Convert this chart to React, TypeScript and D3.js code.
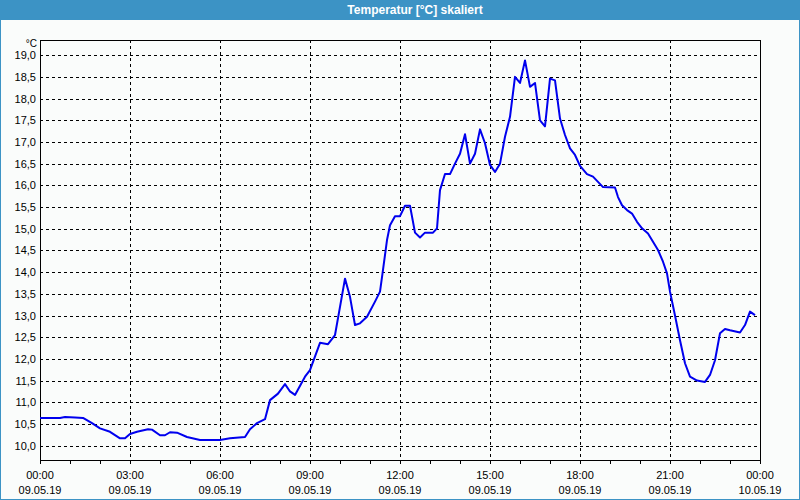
import * as d3 from "d3";
import React, { useEffect, useRef } from "react";

// Sample times (minutes after 09.05.19 00:00) and temperatures in °C
const minutes = [
  0, 40, 50, 70, 86, 104, 120, 140, 160, 170, 180, 194, 216, 224, 240, 250, 260, 274, 294, 320,
  360, 380, 410, 420, 434, 450, 460, 476, 490, 500, 510, 530, 540, 560, 576, 590, 600, 610, 620, 630,
  640, 654, 670, 680, 686, 694, 700, 710, 720, 730, 740, 750, 760, 770, 786, 794, 800, 810, 820, 830,
  840, 850, 860, 870, 880, 890, 900, 910, 920, 930, 940, 950, 960, 970, 980, 990, 1000, 1010, 1020, 1030,
  1040, 1050, 1060, 1070, 1080, 1094, 1106, 1126, 1150, 1156, 1164, 1174, 1184, 1194, 1204, 1216, 1226, 1236, 1246, 1254,
  1260, 1270, 1280, 1290, 1300, 1314, 1330, 1340, 1350, 1360, 1370, 1380, 1400, 1410, 1420, 1430,
];
const temps = [
  10.64, 10.64, 10.66, 10.65, 10.64, 10.52, 10.4, 10.32, 10.17, 10.17, 10.27, 10.32, 10.38, 10.37, 10.24, 10.24, 10.31, 10.3, 10.2, 10.13,
  10.13, 10.17, 10.2, 10.38, 10.52, 10.61, 11.05, 11.2, 11.42, 11.25, 11.17, 11.59, 11.74, 12.37, 12.34, 12.55, 13.2, 13.85, 13.43, 12.78,
  12.82, 12.97, 13.32, 13.55, 14.05, 14.74, 15.08, 15.29, 15.29, 15.53, 15.53, 14.91, 14.8, 14.91, 14.91, 15.01, 15.89, 16.26, 16.26, 16.5,
  16.73, 17.18, 16.5, 16.73, 17.29, 16.97, 16.47, 16.31, 16.5, 17.12, 17.58, 18.5, 18.36, 18.88, 18.27, 18.36, 17.5, 17.36, 18.46, 18.42,
  17.54, 17.16, 16.85, 16.7, 16.45, 16.26, 16.2, 15.96, 15.95, 15.73, 15.54, 15.43, 15.35, 15.16, 15.01, 14.89, 14.7, 14.51, 14.24, 13.97,
  13.55, 13.0, 12.43, 11.9, 11.59, 11.5, 11.47, 11.63, 11.97, 12.59, 12.69, 12.66, 12.61, 12.78, 13.09, 13.01,
];
const yTicks = [10, 10.5, 11, 11.5, 12, 12.5, 13, 13.5, 14, 14.5, 15, 15.5, 16, 16.5, 17, 17.5, 18, 18.5, 19];
const title = "Temperatur [°C] skaliert";
const unit = "°C";

const App: React.FC = () => {
  const ref = useRef<HTMLDivElement>(null);

  useEffect(() => {
    if (!ref.current) return;
    d3.select(ref.current).selectAll("*").remove();

    const width = 800,
      height = 500,
      margin = { top: 40, right: 40, bottom: 40, left: 40 };
    const font = "'Liberation Sans', 'DejaVu Sans', sans-serif";

    const start = new Date(2019, 4, 9, 0, 0);
    const end = new Date(2019, 4, 10, 0, 0);
    const data = minutes.map((m, i) => ({ t: new Date(start.getTime() + m * 60000), v: temps[i] }));

    const svg = d3
      .select(ref.current)
      .append("svg")
      .attr("width", width)
      .attr("height", height)
      .style("display", "block");

    // window background, frame and title bar
    svg.append("rect").attr("width", width).attr("height", height).attr("fill", "#fafcfb");
    svg.append("rect").attr("width", width).attr("height", 20).attr("fill", "#3c93c5");
    svg
      .append("rect")
      .attr("x", 0.5)
      .attr("y", 0.5)
      .attr("width", width - 1)
      .attr("height", height - 1)
      .attr("fill", "none")
      .attr("stroke", "#3c93c5");
    svg
      .append("text")
      .attr("x", 415)
      .attr("y", 14)
      .attr("text-anchor", "middle")
      .style("font-family", font)
      .style("font-size", "12px")
      .style("font-weight", "bold")
      .style("fill", "#fff")
      .text(title);

    const x = d3.scaleTime().domain([start, end]).range([margin.left, width - margin.right]);
    const y = d3.scaleLinear().domain([9.67, 19.35]).range([height - margin.bottom, margin.top]);

    const left = margin.left,
      right = width - margin.right,
      top = margin.top,
      bottom = height - margin.bottom;

    // horizontal grid
    svg
      .append("g")
      .selectAll("line")
      .data(yTicks)
      .enter()
      .append("line")
      .attr("x1", left)
      .attr("x2", right)
      .attr("y1", (d) => Math.round(y(d)) + 0.5)
      .attr("y2", (d) => Math.round(y(d)) + 0.5)
      .attr("stroke", "#000")
      .attr("stroke-dasharray", "3,3");

    // vertical grid every 3 hours
    const major = d3.timeHour.every(3)!.range(start, new Date(end.getTime() + 1));
    svg
      .append("g")
      .selectAll("line")
      .data(major.slice(1, -1))
      .enter()
      .append("line")
      .attr("x1", (d) => Math.round(x(d)) + 0.5)
      .attr("x2", (d) => Math.round(x(d)) + 0.5)
      .attr("y1", top)
      .attr("y2", bottom)
      .attr("stroke", "#000")
      .attr("stroke-dasharray", "3,3");

    // plot frame
    svg
      .append("rect")
      .attr("x", left + 0.5)
      .attr("y", top + 0.5)
      .attr("width", right - left)
      .attr("height", bottom - top)
      .attr("fill", "none")
      .attr("stroke", "#000");

    // hourly ticks below the x axis
    const minor = d3.timeHour.every(1)!.range(start, new Date(end.getTime() + 1));
    svg
      .append("g")
      .selectAll("line")
      .data(minor)
      .enter()
      .append("line")
      .attr("x1", (d) => Math.round(x(d)) + 0.5)
      .attr("x2", (d) => Math.round(x(d)) + 0.5)
      .attr("y1", bottom)
      .attr("y2", bottom + 4)
      .attr("stroke", "#000");

    // y labels
    const fmtY = (v: number) => v.toFixed(1).replace(".", ",");
    svg
      .append("g")
      .selectAll("text")
      .data(yTicks)
      .enter()
      .append("text")
      .attr("x", 36)
      .attr("y", (d) => y(d) + 4)
      .attr("text-anchor", "end")
      .style("font-family", font)
      .style("font-size", "11px")
      .style("fill", "#000")
      .text(fmtY);
    svg
      .append("text")
      .attr("x", 37)
      .attr("y", 47)
      .attr("text-anchor", "end")
      .style("font-family", font)
      .style("font-size", "10px")
      .text(unit);

    // x labels: time and date
    const fmtTime = d3.timeFormat("%H:%M");
    const fmtDate = d3.timeFormat("%d.%m.%y");
    const xl = svg.append("g").selectAll("g").data(major).enter().append("g");
    xl.append("text")
      .attr("x", (d) => x(d))
      .attr("y", 479)
      .attr("text-anchor", "middle")
      .style("font-family", font)
      .style("font-size", "11px")
      .text((d) => fmtTime(d));
    xl.append("text")
      .attr("x", (d) => x(d))
      .attr("y", 494)
      .attr("text-anchor", "middle")
      .style("font-family", font)
      .style("font-size", "11px")
      .text((d) => fmtDate(d));

    // temperature line
    const line = d3
      .line<{ t: Date; v: number }>()
      .x((d) => x(d.t))
      .y((d) => y(d.v));
    svg
      .append("path")
      .datum(data)
      .attr("d", line)
      .attr("fill", "none")
      .attr("stroke", "#0000ee")
      .attr("stroke-width", 2)
      .attr("stroke-linejoin", "round");
  }, []);

  return <div ref={ref} style={{ position: "fixed", left: 0, top: 0 }}></div>;
};

export default App;
